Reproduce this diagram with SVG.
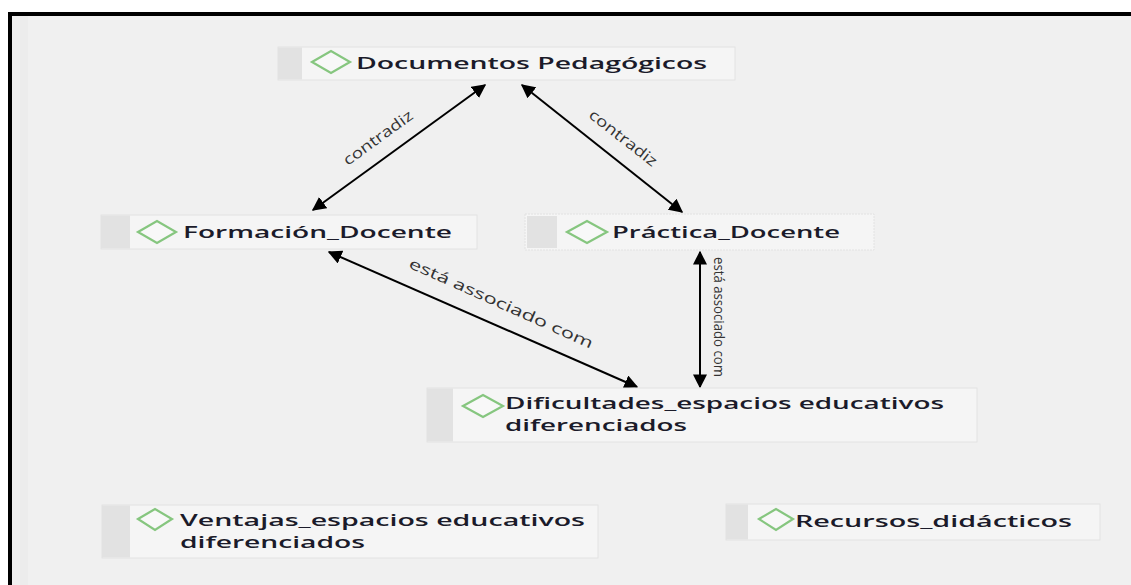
<svg xmlns="http://www.w3.org/2000/svg" width="1131" height="585" viewBox="0 0 1131 585">
<defs>
<marker id="ahb" viewBox="0 0 10 10" refX="9" refY="5" markerWidth="14" markerHeight="14" orient="auto-start-reverse" markerUnits="userSpaceOnUse">
<path d="M0,0 L10,5 L0,10 z" fill="#000"/>
</marker>
<style>
.box{fill:#f5f5f5;stroke:#e2e2e2;stroke-width:1}
.strip{fill:#e2e2e2}
.dia{fill:#f8f8f8;stroke:#86c67f;stroke-width:2.2}
.nt{font-family:"Open Sans","Noto Sans",sans-serif;font-weight:600;font-size:16px;fill:#1b1b2a}
.lbl{font-family:"Open Sans","Noto Sans",sans-serif;font-size:15px;fill:#333}
.con{stroke:#000;stroke-width:2;fill:none}
</style>
</defs>
<rect x="0" y="0" width="1131" height="585" fill="#fff"/>
<rect x="10" y="14" width="1125" height="575" fill="#f0f0f0" stroke="#000" stroke-width="4"/>
<rect x="20" y="16" width="8" height="569" fill="#ececec"/>

<g id="connectors">
<line class="con" x1="313" y1="210" x2="485" y2="85" marker-start="url(#ahb)" marker-end="url(#ahb)"/>
<line class="con" x1="522" y1="85" x2="682" y2="212" marker-start="url(#ahb)" marker-end="url(#ahb)"/>
<line class="con" x1="329" y1="252" x2="637" y2="387" marker-start="url(#ahb)" marker-end="url(#ahb)"/>
<line class="con" x1="700" y1="252" x2="700" y2="387" stroke-width="2.5" marker-start="url(#ahb)" marker-end="url(#ahb)"/>
<text class="lbl" transform="translate(381,142) rotate(-36)" text-anchor="middle" textLength="82" lengthAdjust="spacingAndGlyphs">contradiz</text>
<text class="lbl" transform="translate(620,142) rotate(38)" text-anchor="middle" textLength="82" lengthAdjust="spacingAndGlyphs">contradiz</text>
<text class="lbl" transform="translate(499,308) rotate(24)" text-anchor="middle" textLength="200" lengthAdjust="spacingAndGlyphs">está associado com</text>
<text class="lbl" transform="translate(714,317) rotate(90)" text-anchor="middle" textLength="120" lengthAdjust="spacingAndGlyphs">está associado com</text>
</g>

<g id="node-documentos">
<rect class="box" x="278" y="47" width="457" height="33"/>
<rect class="strip" x="278" y="47.5" width="24" height="32"/>
<polygon class="dia" points="312,62 331,51 350,62 331,73"/>
<text class="nt" x="356" y="69" textLength="351" lengthAdjust="spacingAndGlyphs">Documentos Pedagógicos</text>
</g>

<g id="node-formacion">
<rect class="box" x="101" y="215" width="376" height="34"/>
<rect class="strip" x="101" y="215.5" width="29" height="33"/>
<polygon class="dia" points="138,232 157,221 176,232 157,243"/>
<text class="nt" x="183" y="238" textLength="269" lengthAdjust="spacingAndGlyphs">Formación_Docente</text>
</g>

<g id="node-practica">
<rect class="box" x="525" y="214" width="349" height="36" stroke="#666" stroke-dasharray="2,1"/>
<rect class="strip" x="527" y="216" width="30" height="32"/>
<polygon class="dia" points="567,232 587,221 607,232 587,243"/>
<text class="nt" x="612" y="238" textLength="228" lengthAdjust="spacingAndGlyphs">Práctica_Docente</text>
</g>

<g id="node-dificultades">
<rect class="box" x="427" y="388" width="550" height="54"/>
<rect class="strip" x="427" y="388.5" width="26" height="53"/>
<polygon class="dia" points="463,406 483,395 503,406 483,417"/>
<text class="nt" x="505" y="409" textLength="439" lengthAdjust="spacingAndGlyphs">Dificultades_espacios educativos</text>
<text class="nt" x="505" y="431" textLength="182" lengthAdjust="spacingAndGlyphs">diferenciados</text>
</g>

<g id="node-ventajas">
<rect class="box" x="102" y="505" width="496" height="53"/>
<rect class="strip" x="102" y="505.5" width="28" height="52"/>
<polygon class="dia" points="138,519 155,509 172,519 155,530"/>
<text class="nt" x="180" y="526" textLength="405" lengthAdjust="spacingAndGlyphs">Ventajas_espacios educativos</text>
<text class="nt" x="180" y="548" textLength="185" lengthAdjust="spacingAndGlyphs">diferenciados</text>
</g>

<g id="node-recursos">
<rect class="box" x="726" y="504" width="374" height="36"/>
<rect class="strip" x="726" y="504.5" width="22" height="35"/>
<polygon class="dia" points="759,519 776,509 793,519 776,530"/>
<text class="nt" x="795" y="527" textLength="277" lengthAdjust="spacingAndGlyphs">Recursos_didácticos</text>
</g>
</svg>
